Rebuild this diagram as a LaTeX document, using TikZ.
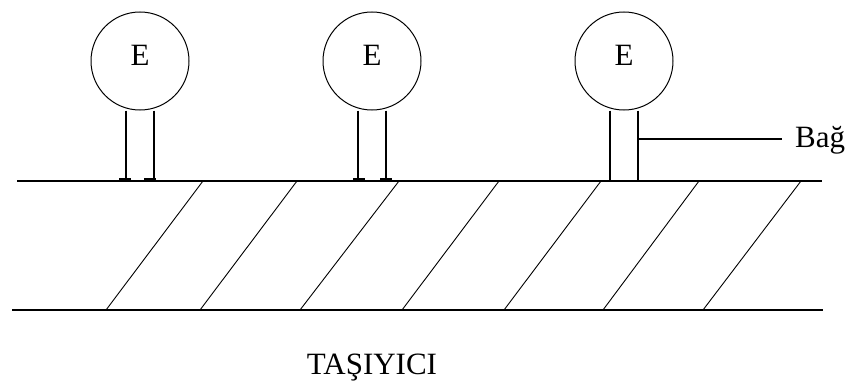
\documentclass[tikz,border=0pt]{standalone}
\usepackage{fontspec}
\setmainfont{Liberation Serif}
\begin{document}
\begin{tikzpicture}[x=1pt,y=-1pt,
  base line/.style={line width=1.2pt},
  ent/.style={circle, draw, line width=1pt, minimum size=98pt, inner sep=0pt},
  lbl/.style={font=\fontsize{31}{34}\selectfont, inner sep=0pt},
  legline/.style={line width=1.2pt},
  hatch/.style={line width=0.9pt},
  foot/.style={fill=black, draw=none}]
\useasboundingbox[fill=white] (0,0) rectangle (847,388);
% carrier lines
\coordinate (tl) at (17,181);
\coordinate (tr) at (822,181);
\coordinate (bl) at (12,310);
\coordinate (br) at (823,310);
\draw[base line] (tl) -- (tr);
\draw[base line] (bl) -- (br);
% hatching
\foreach \a/\b in {203/106,297/200,399/300,499/402,601/504,699/603,801/703}
  \draw[hatch] (\a,181) -- (\b,310);
% enzymes
\node[ent] (e1) at (140,61) {};
\node[ent] (e2) at (372,61) {};
\node[ent] (e3) at (624,61) {};
\node[lbl, anchor=base] (t1) at (140,65) {E};
\node[lbl, anchor=base] (t2) at (372,65) {E};
\node[lbl, anchor=base] (t3) at (624,65) {E};
% legs
\foreach \e in {e1,e2,e3}{
  \draw[legline] ([xshift=-14pt]\e.south) -- ([xshift=-14pt]\e.south |- tl);
  \draw[legline] ([xshift=14pt]\e.south) -- ([xshift=14pt]\e.south |- tl);
}
% feet
\fill[foot] (119,177.5) rectangle (131,181);
\fill[foot] (144,177.5) rectangle (156,181);
\fill[foot] (353,177.5) rectangle (365,181);
\fill[foot] (380,177.5) rectangle (392,181);
% label Bag
\coordinate (b0) at (639,139);
\coordinate (b1) at (782,139);
\draw[legline] (b0) -- (b1);
\node[lbl, anchor=base west] (bag) at (795,147) {Bağ};
% title
\node[lbl, anchor=base] (tas) at (372,374) {TAŞIYICI};
\end{tikzpicture}
\end{document}
